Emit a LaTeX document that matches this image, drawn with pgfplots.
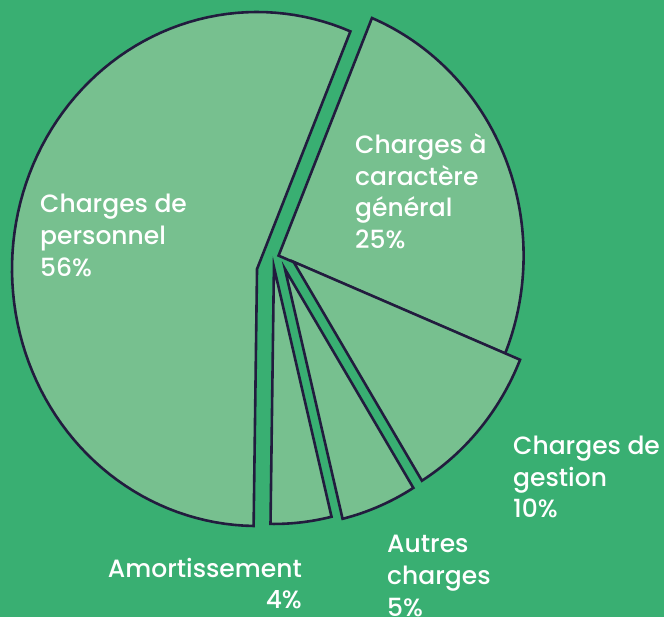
\documentclass[border=0pt]{standalone}
\usepackage{pgfplots}
\pgfplotsset{compat=1.18}
\usepackage{fontspec}
\setmainfont{Poppins}[UprightFont={* Medium}]
\definecolor{bgG}{HTML}{39AF72}
\definecolor{slG}{HTML}{77C08F}
\definecolor{edge}{HTML}{221C3E}
% shares (percent)
\def\vPers{56}\def\vGen{25}\def\vGest{10}\def\vAut{5}\def\vAmo{4}
\begin{document}
\begin{tikzpicture}
\pgfmathsetmacro{\bA}{67.6}
\pgfmathsetmacro{\bB}{\bA-3.6*\vGen}
\pgfmathsetmacro{\bC}{\bB-3.6*\vGest}
\pgfmathsetmacro{\bD}{\bC-3.6*\vAut}
\pgfmathsetmacro{\bE}{\bD-3.6*\vAmo}
\pgfmathsetmacro{\bF}{\bA+3.6*\vPers}
\begin{axis}[
  scale only axis, width=664pt, height=617pt,
  xmin=-1.049, xmax=1.661, ymin=-1.354, ymax=1.0467,
  axis line style={draw=none}, xtick=\empty, ytick=\empty,
  axis background/.style={fill=bgG},
  clip=false,
  slice/.style={fill=slG, draw=edge, line width=2.6pt, line join=miter, samples=90},
]
% Charges de personnel
\addplot[slice, domain=\bA:\bF] ({cos(x)},{sin(x)}) -- (axis cs:0,0) -- cycle;
% Charges a caractere general
\addplot[slice, domain=\bB:\bA] ({0.088+cos(x)},{0.052+sin(x)}) -- (axis cs:0.088,0.052) -- cycle;
% Charges de gestion
\addplot[slice, domain=\bC:\bB] ({0.149+cos(x)},{0.028+sin(x)}) -- (axis cs:0.149,0.028) -- cycle;
% Autres charges
\addplot[slice, domain=\bD:\bC] ({0.114+cos(x)},{0.0+sin(x)}) -- (axis cs:0.114,0.0) -- cycle;
% Amortissement
\addplot[slice, domain=\bE:\bD] ({0.069+cos(x)},{0.008+sin(x)}) -- (axis cs:0.069,0.008) -- cycle;
\end{axis}
\begin{scope}[shift={(current axis.north west)}, x=1pt, y=-1pt,
  every node/.style={text=white, font=\fontsize{25}{30}\selectfont, inner sep=0pt, overlay}]
\node[anchor=base west] at (40,213) {Charges de};
\node[anchor=base west] at (40,245) {personnel};
\node[anchor=base west] at (40,277) {56\%};
\node[anchor=base west] at (355,154) {Charges à};
\node[anchor=base west] at (355,185.5) {caractère};
\node[anchor=base west] at (355,217) {général};
\node[anchor=base west] at (355,248.5) {25\%};
\node[anchor=base west] at (513,455) {Charges de};
\node[anchor=base west] at (513,486.5) {gestion};
\node[anchor=base west] at (513,518) {10\%};
\node[anchor=base west] at (387,553) {Autres};
\node[anchor=base west] at (387,585) {charges};
\node[anchor=base west] at (387,617) {5\%};
\node[anchor=base east] at (302,578) {Amortissement};
\node[anchor=base east] at (302,609) {4\%};
\end{scope}
\end{tikzpicture}
\end{document}
